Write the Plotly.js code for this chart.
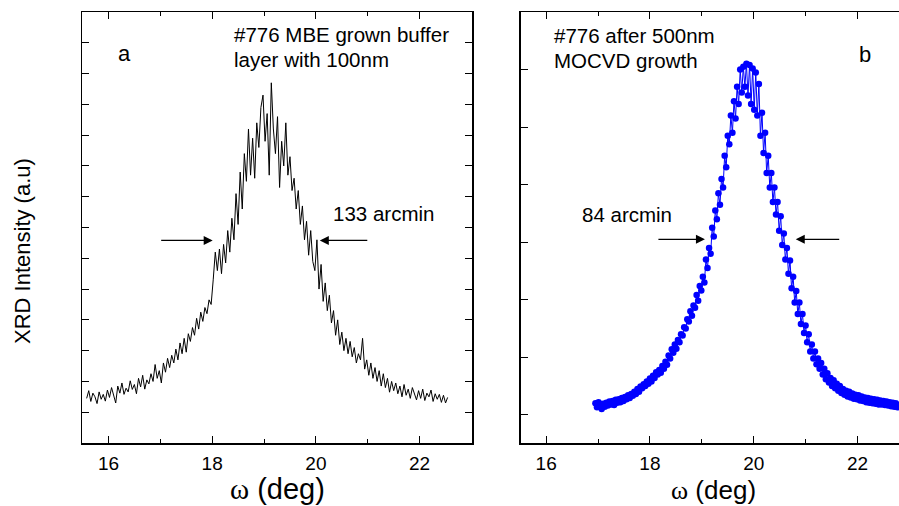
<!DOCTYPE html>
<html><head><meta charset="utf-8">
<script src="https://cdn.plot.ly/plotly-3.0.1.min.js"></script>
<style>html,body{margin:0;padding:0;background:#fff}#chart{width:899px;height:506px}</style>
</head><body><div id="chart"></div>
<script>
// Panel a: MBE grown buffer layer (omega scan, evenly spaced)
const omegaAStart = 15.58, omegaAStep = 0.04;
const intensityA = [
1.45,1.70,1.35,1.62,1.50,1.28,1.66,1.42,1.58,1.36,
1.72,1.48,1.80,1.55,1.30,1.85,1.62,1.95,1.58,1.78,
1.66,2.02,1.74,1.90,1.60,2.10,1.82,2.20,1.75,2.05,
1.92,2.25,2.00,2.55,2.10,2.35,1.95,2.60,2.30,2.75,
2.45,2.85,2.60,3.05,2.70,3.25,2.90,3.40,2.95,3.55,
3.30,3.75,3.50,4.05,3.70,4.25,3.95,4.40,4.20,4.65,
4.50,5.30,6.20,5.60,6.30,5.50,6.45,5.85,6.90,6.20,
7.30,6.60,8.10,7.10,8.80,7.60,9.40,8.50,10.20,8.70,
9.90,8.60,10.40,9.60,10.90,11.30,9.80,10.70,8.70,11.70,
10.20,9.40,10.60,8.30,9.80,9.00,10.40,8.70,9.30,8.20,
8.60,7.60,8.20,7.10,7.70,6.60,7.20,6.10,6.90,5.90,
5.60,6.60,5.00,5.80,4.60,5.20,4.30,4.80,3.90,4.30,
3.50,4.00,3.20,3.60,3.00,3.40,2.90,3.30,2.80,3.10,
2.60,2.90,2.70,3.40,2.40,2.70,2.20,2.60,2.10,2.45,
2.00,2.35,1.85,2.25,1.80,2.10,1.65,2.00,1.70,1.95,
1.60,1.85,1.50,1.90,1.55,1.75,1.45,1.80,1.60,1.40,
1.70,1.45,1.75,1.38,1.62,1.50,1.72,1.35,1.60,1.42,
1.58,1.32,1.55,1.30,1.48
];
// Panel b: after 500nm MOCVD growth
const omegaBStart = 16.95, omegaBStep = 0.03;
const intensityB = [
0.20,0.13,0.22,0.15,0.10,0.19,0.14,0.21,0.16,0.23,
0.18,0.24,0.17,0.26,0.21,0.27,0.22,0.29,0.24,0.31,
0.27,0.34,0.29,0.36,0.33,0.40,0.36,0.45,0.40,0.49,
0.46,0.53,0.50,0.58,0.54,0.63,0.58,0.68,0.64,0.74,
0.70,0.78,0.73,0.85,0.80,0.92,0.87,1.03,0.98,1.14,
1.08,1.22,1.15,1.30,1.26,1.40,1.38,1.52,1.50,1.66,
1.62,1.80,1.72,1.90,1.86,2.08,1.98,2.24,2.16,2.40,
2.30,2.70,2.55,2.90,2.80,3.25,3.10,3.55,3.40,3.85,
3.65,4.10,3.95,4.50,4.30,4.85,4.70,5.20,4.90,5.45,
5.15,5.70,5.40,6.00,5.60,6.05,5.70,6.10,5.55,6.08,
5.40,6.02,5.30,5.95,5.20,5.75,4.85,5.25,4.55,4.90,
4.20,4.50,3.95,4.20,3.70,3.95,3.48,3.70,3.20,3.45,
2.95,3.15,2.70,2.90,2.45,2.68,2.20,2.40,1.95,2.15,
1.75,1.95,1.58,1.75,1.42,1.55,1.26,1.40,1.10,1.22,
0.98,1.10,0.88,0.98,0.80,0.90,0.70,0.80,0.62,0.72,
0.56,0.64,0.50,0.60,0.46,0.54,0.42,0.50,0.38,0.45,
0.35,0.42,0.32,0.40,0.30,0.37,0.28,0.35,0.27,0.34,
0.25,0.32,0.24,0.30,0.22,0.29,0.21,0.28,0.20,0.27,
0.19,0.26,0.18,0.25,0.18,0.24,0.17,0.23,0.16,0.22,
0.15,0.21,0.14,0.20,0.13,0.17
];
const xTickVals = [16, 18, 20, 22];
const xTickText = ['16', '18', '20', '22'];
const xMinorVals = [15, 17, 19, 21, 23];
// FWHM markers (degrees) and labels
const fwhmA = {left: 18.01, right: 20.075, level: 6.58, label: '133 arcmin'};
const fwhmB = {left: 19.06, right: 20.81, level: 3.05, label: '84 arcmin'};

const omegaA = intensityA.map((_, i) => +(omegaAStart + i * omegaAStep).toFixed(3));
const omegaB = intensityB.map((_, i) => +(omegaBStart + i * omegaBStep).toFixed(3));

const FONT = 'Liberation Sans, Arial, sans-serif';
const W = 899, H = 506;
const px = v => v / W, py = v => 1 - v / H;

function xAxis(domain, range, anchor) {
  return {domain, range, anchor, showline: true, linecolor: '#000', linewidth: 1.5,
    mirror: 'ticks', ticks: 'inside', ticklen: 7, tickwidth: 1, tickcolor: '#000',
    tickmode: 'array', tickvals: xTickVals, ticktext: xTickText,
    minor: {tickmode: 'array', tickvals: xMinorVals, ticks: 'inside', ticklen: 4, tickwidth: 1, tickcolor: '#000', showgrid: false},
    showgrid: false, zeroline: false, tickfont: {family: FONT, size: 19, color: '#000'}, ticklabelstandoff: 3};
}
function yAxis(domain, range, anchor, mirror) {
  return {domain, range, anchor, showline: true, linecolor: '#000', linewidth: 1.5,
    mirror: mirror, ticks: 'inside', ticklen: 7, tickwidth: 1, tickcolor: '#000',
    tickmode: 'linear', tick0: 0, dtick: 1, showticklabels: false, showgrid: false, zeroline: false};
}
const yDom = [1 - 443 / H, 1 - 12 / H];

const traces = [
  {x: omegaA, y: intensityA, mode: 'lines', line: {color: '#000', width: 1}, xaxis: 'x', yaxis: 'y', hoverinfo: 'skip'},
  {x: omegaB, y: intensityB, mode: 'lines+markers', line: {color: '#0000ff', width: 1},
   marker: {color: '#0000ff', size: 6.5}, xaxis: 'x2', yaxis: 'y2', hoverinfo: 'skip'}
];

function txt(text, x, y, size, xanchor) {
  return {text, x: px(x), y: py(y), xref: 'paper', yref: 'paper', showarrow: false,
    xanchor: xanchor || 'left', yanchor: 'middle', font: {family: FONT, size: size || 20, color: '#000'}};
}
function arrow(xr, yr, x, y, ax) {
  return {text: '', x, y, xref: xr, yref: yr, ax, ay: 0, showarrow: true,
    arrowhead: 2, arrowsize: 1.5, arrowwidth: 1.2, arrowcolor: '#000', standoff: 0, startstandoff: 0};
}

const annotations = [
  txt('a', 124, 53, 22, 'center'),
  txt('#776 MBE grown buffer', 232, 34, 20.5),
  txt('layer with 100nm', 232, 60, 20.5),
  txt(fwhmA.label, 331, 213, 20.5),
  txt('#776 after 500nm', 552, 35, 20.5),
  txt('MOCVD growth', 552, 61, 20.5),
  txt('b', 865, 54, 22, 'center'),
  txt(fwhmB.label, 580, 214, 20.5),
  arrow('x', 'y', fwhmA.left, fwhmA.level, -53),
  arrow('x', 'y', fwhmA.right, fwhmA.level, 49),
  arrow('x2', 'y2', fwhmB.left, fwhmB.level, -48),
  arrow('x2', 'y2', fwhmB.right, fwhmB.level, 45),
  {text: '<span style="font-family:Liberation Serif">ω</span> (deg)', x: px(277), y: py(489),
   xref: 'paper', yref: 'paper', showarrow: false, xanchor: 'center', yanchor: 'middle',
   font: {family: FONT, size: 29, color: '#000'}},
  {text: '<span style="font-family:Liberation Serif">ω</span> (deg)', x: px(713), y: py(490),
   xref: 'paper', yref: 'paper', showarrow: false, xanchor: 'center', yanchor: 'middle',
   font: {family: FONT, size: 26, color: '#000'}},
  {text: 'XRD Intensity (a.u)', x: px(22), y: py(251), xref: 'paper', yref: 'paper',
   showarrow: false, textangle: -90, xanchor: 'center', yanchor: 'middle',
   font: {family: FONT, size: 22, color: '#000'}}
];

const layout = {
  width: W, height: H, margin: {l: 0, r: 0, t: 0, b: 0},
  paper_bgcolor: '#fff', plot_bgcolor: '#fff', showlegend: false,
  font: {family: FONT, color: '#000'},
  xaxis: xAxis([82 / W, 472 / W], [15.49, 23.01], 'y'),
  yaxis: yAxis(yDom, [0, 14], 'x', 'ticks'),
  xaxis2: xAxis([520.7 / W, 1], [15.51, 22.80], 'y2'),
  yaxis2: yAxis(yDom, [-0.49, 7.0], 'x2', false),
  annotations
};
Plotly.newPlot('chart', traces, layout, {displayModeBar: false, staticPlot: true});
</script></body></html>
